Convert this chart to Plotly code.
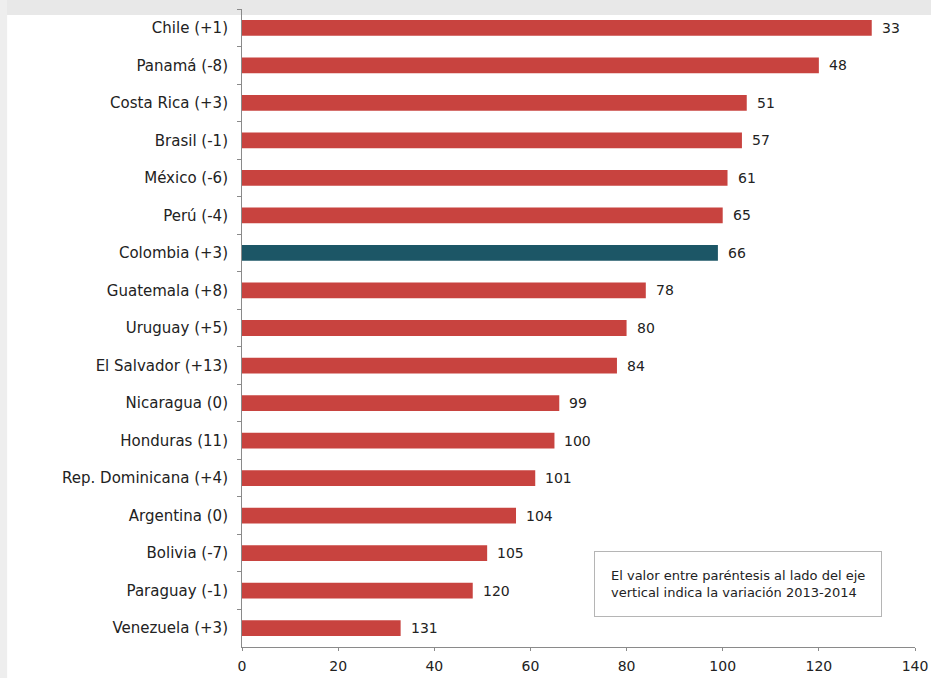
import plotly.graph_objects as go

countries = ["Chile (+1)", "Panamá (-8)", "Costa Rica (+3)", "Brasil (-1)", "México (-6)",
             "Perú (-4)", "Colombia (+3)", "Guatemala (+8)", "Uruguay (+5)", "El Salvador (+13)",
             "Nicaragua (0)", "Honduras (11)", "Rep. Dominicana (+4)", "Argentina (0)",
             "Bolivia (-7)", "Paraguay (-1)", "Venezuela (+3)"]
# bar lengths as drawn in the picture
bar_values = [131, 120, 105, 104, 101, 100, 99, 84, 80, 78, 66, 65, 61, 57, 51, 48, 33]
# rank numbers printed next to each bar
rank_labels = [33, 48, 51, 57, 61, 65, 66, 78, 80, 84, 99, 100, 101, 104, 105, 120, 131]
highlight = "Colombia (+3)"
x_ticks = [0, 20, 40, 60, 80, 100, 120, 140]

RED = "#c8433f"
TEAL = "#1c5666"
FONT = "DejaVu Sans"
colors = [TEAL if c == highlight else RED for c in countries]

fig = go.Figure()
fig.add_trace(go.Bar(
    x=bar_values, y=countries, orientation="h",
    marker=dict(color=colors, line=dict(width=0)),
    width=0.42, hoverinfo="skip",
))

for c, v, lab in zip(countries, bar_values, rank_labels):
    fig.add_annotation(x=v, y=c, text=str(lab), showarrow=False,
                       xanchor="left", yanchor="middle", xshift=8,
                       font=dict(size=14, color="#222222", family=FONT))

fig.add_annotation(
    x=0.7375, y=0.098, xref="paper", yref="paper",
    text="El valor entre paréntesis al lado del eje<br>vertical indica la variación 2013-2014",
    showarrow=False, align="left", xanchor="center", yanchor="middle",
    font=dict(size=13, color="#222222", family=FONT),
    bordercolor="#b5b5b5", borderwidth=1, borderpad=16, bgcolor="white",
)

# light gray scan border band at top and left
fig.add_shape(type="rect", xref="paper", yref="paper", x0=-0.4, x1=1.05, y0=0.9906, y1=1.03,
              fillcolor="#e8e8e8", line_width=0, layer="below")
fig.add_shape(type="rect", xref="paper", yref="paper", x0=-0.4, x1=-0.349, y0=-0.1, y1=1.03,
              fillcolor="#eeeeee", line_width=0, layer="below")

fig.update_layout(
    width=931, height=678,
    margin=dict(l=242, r=16, t=9, b=31, autoexpand=False),
    paper_bgcolor="white", plot_bgcolor="white",
    showlegend=False,
    font=dict(family=FONT, size=14, color="#222222"),
)
fig.update_xaxes(range=[0, 140], tickvals=x_ticks, showgrid=False, zeroline=False,
                 showline=True, linecolor="#8a8a8a", linewidth=1, automargin=False,
                 ticks="outside", ticklen=3, tickcolor="#8a8a8a", ticklabelstandoff=3,
                 tickfont=dict(size=14, color="#222222"), fixedrange=True)
fig.update_yaxes(autorange="reversed", showgrid=False, zeroline=False,
                 showline=True, linecolor="#8a8a8a", linewidth=1, automargin=False,
                 ticks="outside", ticklen=4, tickcolor="#8a8a8a", tickson="boundaries",
                 ticklabelstandoff=10,
                 tickfont=dict(size=15, color="#222222"), fixedrange=True)

fig.write_html("out.html")
